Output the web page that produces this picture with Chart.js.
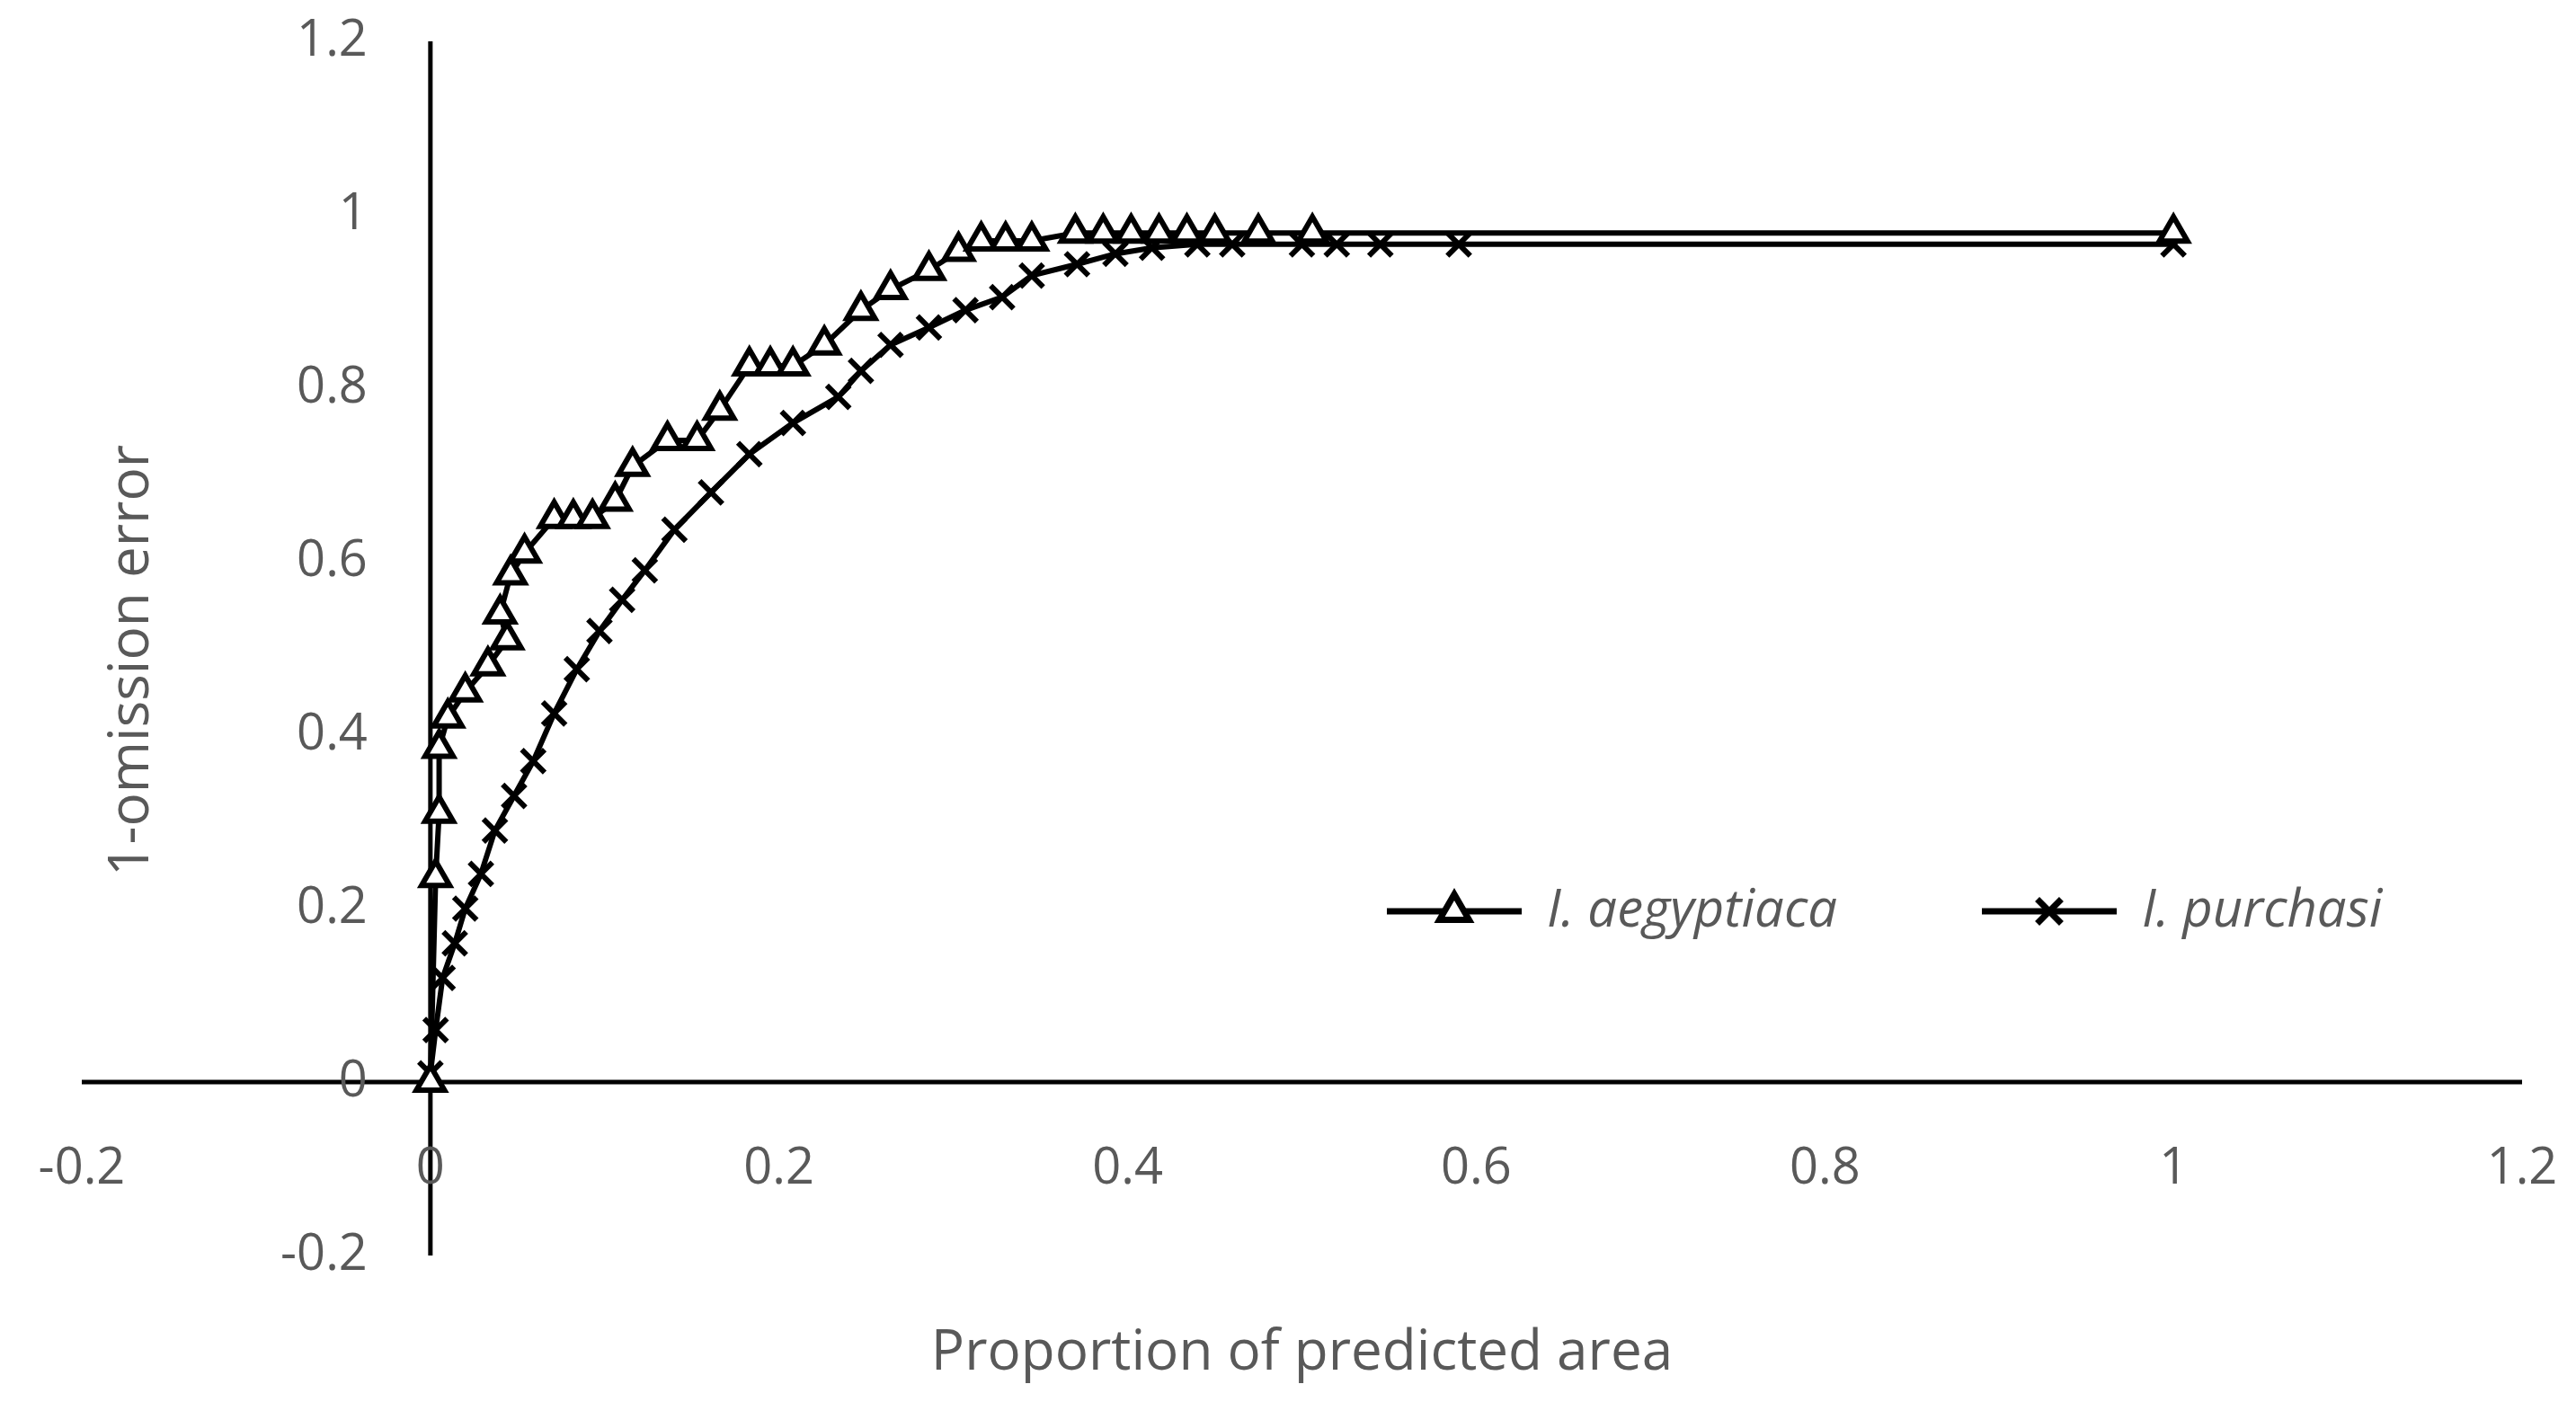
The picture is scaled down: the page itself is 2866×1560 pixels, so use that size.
<!DOCTYPE html>
<html>
<head>
<meta charset="utf-8">
<script src="https://cdn.jsdelivr.net/npm/chart.js@4.4.1/dist/chart.umd.min.js"></script>
<style>
  body { margin: 0; background: #fff; }
  #wrap { width: 2866px; height: 1560px; }
</style>
</head>
<body>
<div id="wrap"><canvas id="rocChart" width="2866" height="1560"></canvas></div>
<script>
const seriesNames = ['I. aegyptiaca', 'I. purchasi'];

const aegyptiacaX = [0, 0.003, 0.005, 0.005, 0.01, 0.02, 0.033, 0.044, 0.04, 0.046, 0.054, 0.071, 0.082, 0.093, 0.106,
  0.116, 0.136, 0.153, 0.166, 0.183, 0.195, 0.208, 0.226, 0.247, 0.264, 0.286, 0.303, 0.316, 0.33, 0.345,
  0.37, 0.386, 0.402, 0.418, 0.434, 0.45, 0.475, 0.506, 1];
const aegyptiacaY = [0, 0.236, 0.31, 0.385, 0.42, 0.45, 0.48, 0.51, 0.54, 0.585, 0.61, 0.65, 0.65, 0.65, 0.67,
  0.71, 0.74, 0.74, 0.775, 0.826, 0.826, 0.826, 0.85, 0.89, 0.914, 0.936, 0.958, 0.97, 0.97, 0.97,
  0.979, 0.979, 0.979, 0.979, 0.979, 0.979, 0.979, 0.979, 0.979];

const purchasiX = [0, 0.003, 0.007, 0.014, 0.02, 0.029, 0.037, 0.048, 0.059, 0.071, 0.084, 0.097, 0.11, 0.123,
  0.14, 0.161, 0.183, 0.208, 0.234, 0.247, 0.264, 0.286, 0.307, 0.328, 0.345, 0.371, 0.393, 0.414, 0.44,
  0.46, 0.5, 0.52, 0.545, 0.59, 1];
const purchasiY = [0.01, 0.06, 0.12, 0.16, 0.2, 0.24, 0.29, 0.33, 0.37, 0.425, 0.476, 0.52, 0.556, 0.59,
  0.637, 0.68, 0.724, 0.76, 0.79, 0.82, 0.85, 0.87, 0.89, 0.905, 0.93, 0.943, 0.955, 0.962, 0.966,
  0.966, 0.966, 0.966, 0.966, 0.966, 0.966];

const tickValues = [-0.2, 0, 0.2, 0.4, 0.6, 0.8, 1, 1.2];
const xTitle = 'Proportion of predicted area';
const yTitle = '1-omission error';

function toPoints(xs, ys) {
  return xs.map((x, i) => ({ x: x, y: ys[i] }));
}

const gray = '#595959';
const fontFamily = '"Open Sans", Calibri, sans-serif';
const styles = ['triangle', 'crossRot'];
const fmt = v => String(Math.round(v * 10) / 10);

// axes cross at zero, labels sit next to the axes (Excel style)
const crossAxes = {
  id: 'crossAxes',
  beforeDatasetsDraw(chart) {
    const ctx = chart.ctx, xs = chart.scales.x, ys = chart.scales.y, a = chart.chartArea;
    const x0 = xs.getPixelForValue(0), y0 = ys.getPixelForValue(0);
    ctx.save();
    ctx.strokeStyle = '#000';
    ctx.lineWidth = 5;
    ctx.beginPath();
    ctx.moveTo(a.left, y0); ctx.lineTo(a.right, y0);
    ctx.moveTo(x0, a.top); ctx.lineTo(x0, a.bottom);
    ctx.stroke();

    ctx.fillStyle = gray;
    ctx.font = '56px ' + fontFamily;
    ctx.textAlign = 'right';
    ctx.textBaseline = 'middle';
    tickValues.forEach(v => ctx.fillText(fmt(v), x0 - 70, ys.getPixelForValue(v)));
    ctx.textAlign = 'center';
    tickValues.forEach(v => ctx.fillText(fmt(v), xs.getPixelForValue(v), y0 + 97));

    ctx.font = '62px ' + fontFamily;
    ctx.fillText(xTitle, (a.left + a.right) / 2, 1506);
    ctx.translate(147, 735);
    ctx.rotate(-Math.PI / 2);
    ctx.fillText(yTitle, 0, 0);
    ctx.restore();
  }
};

// legend drawn inside the plot, like the original
const insideLegend = {
  id: 'insideLegend',
  afterDraw(chart) {
    const ctx = chart.ctx;
    const starts = [1543, 2205];
    const y = 1014;
    ctx.save();
    starts.forEach((x, i) => {
      ctx.strokeStyle = '#000';
      ctx.lineWidth = 7;
      ctx.beginPath();
      ctx.moveTo(x, y);
      ctx.lineTo(x + 150, y);
      ctx.stroke();
      ctx.fillStyle = '#fff';
      Chart.helpers.drawPoint(ctx, { pointStyle: styles[i], radius: 19, rotation: 0, borderWidth: 6 }, x + 75, y);
      ctx.fillStyle = gray;
      ctx.font = 'italic 58px ' + fontFamily;
      ctx.textAlign = 'left';
      ctx.textBaseline = 'middle';
      ctx.fillText(seriesNames[i], x + 178, y);
    });
    ctx.restore();
  }
};

const common = {
  showLine: true,
  borderColor: '#000',
  borderWidth: 6,
  pointRadius: 18,
  pointBorderWidth: 6,
  pointBackgroundColor: '#fff',
  pointBorderColor: '#000'
};

new Chart(document.getElementById('rocChart'), {
  type: 'scatter',
  data: {
    datasets: [
      Object.assign({ label: seriesNames[0], data: toPoints(aegyptiacaX, aegyptiacaY), pointStyle: 'triangle' }, common),
      Object.assign({ label: seriesNames[1], data: toPoints(purchasiX, purchasiY), pointStyle: 'crossRot' }, common)
    ]
  },
  options: {
    responsive: false,
    animation: false,
    layout: { padding: { left: 83, right: 60, top: 46, bottom: 155 } },
    plugins: { legend: { display: false }, tooltip: { enabled: false } },
    scales: {
      x: {
        type: 'linear', min: -0.2, max: 1.2,
        grid: { display: false }, border: { display: false }, ticks: { display: false }
      },
      y: {
        type: 'linear', min: -0.2, max: 1.2,
        grid: { display: false }, border: { display: false }, ticks: { display: false }
      }
    }
  },
  plugins: [crossAxes, insideLegend]
});
</script>
</body>
</html>
